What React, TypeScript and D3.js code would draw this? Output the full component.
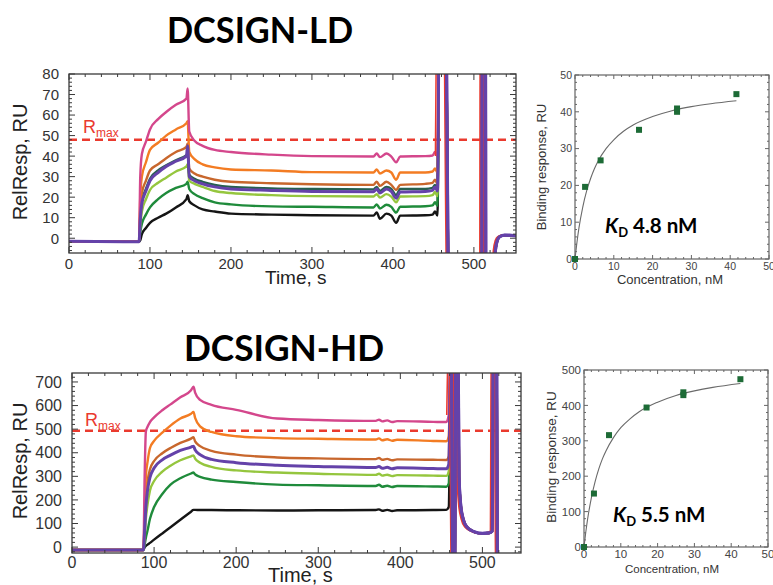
import React from "react";
import * as d3 from "d3";

// ---------------- DCSIGN-LD sensorgram (RU vs time, s) ----------------
const LD_TIME = [0, 86.5, 88, 90, 95, 100, 110, 120, 132, 145, 146.5, 148.5, 155, 165, 180, 200, 250, 300, 376, 380, 384, 392, 398, 404, 409, 440, 449, 452, 455];
const LD_BLACK = [-1.5, -1.7, -1, 2, 5, 7.5, 10, 12, 15, 19, 21, 18, 16, 14, 13, 12, 11.5, 11.2, 11, 12.5, 9.5, 12, 11, 7.5, 11, 11.2, 11.5, 13, 11];
const LD_GREEN = [-1.5, -1.7, 3, 7, 11.5, 15, 19, 22, 24.5, 26.5, 27.5, 24, 21.5, 19.5, 17.5, 16.5, 15.5, 15.3, 15, 16.5, 14.5, 16.3, 15.3, 12.5, 15.3, 15.6, 16, 17.5, 15.8];
const LD_LIGHTGREEN = [-1.5, -1.7, 6, 13, 19, 23.5, 27, 29.5, 32.5, 35, 36, 28, 26.5, 25, 23, 22, 21, 20.5, 20.3, 21.5, 19.8, 21.5, 20.3, 17.5, 20.3, 20.5, 21, 22.5, 20.5];
const LD_TEAL = [-1.5, -1.7, 10, 18, 24, 29, 33, 35.5, 38, 40.5, 41, 31, 29, 27.5, 26, 25, 24.3, 24, 23.8, 25, 23, 25, 24, 21, 24, 24, 24.5, 26, 24];
const LD_BROWN = [-1.5, -1.7, 14, 22, 28, 33, 36, 39, 42, 44.5, 46, 34, 31.5, 30, 28.5, 27.5, 26.8, 26.3, 26, 27.5, 25.5, 27.5, 26, 23.5, 26, 26.5, 27, 28.5, 26.5];
const LD_ORANGE = [-1.5, -1.7, 20, 30, 37, 43, 46.5, 50, 53, 56, 57, 42, 38.5, 36, 34.5, 33.5, 33, 32.2, 32, 33.5, 31.5, 33, 32, 28.5, 32, 32, 32.5, 34, 32];
const LD_PINK = [-1.5, -1.7, 30, 41, 47, 53, 58, 61.5, 65, 68, 73, 52, 47.5, 45, 43, 42, 40.7, 40, 39.8, 41.3, 39.5, 41.3, 39.8, 37, 39.8, 40, 40.3, 42, 40];
const LD_PURPLE = [-1.5, -1.7, 9, 17, 23, 28, 32, 35, 37.5, 40, 45, 30, 28, 26.5, 25, 24, 23.3, 22.8, 22.6, 24, 22, 24, 22.8, 19.5, 22.5, 22.8, 23.3, 25, 23];
// regeneration pulse (goes off scale)
const LD_TAIL_TIME = [458, 464, 470, 509.5, 510.5, 514, 515, 524, 526.5, 529, 532, 538, 552];
const LD_TAIL_RU = [150, 150, -60, -60, 150, 150, -60, -60, -6, -1, 0.8, 1.5, 1.2];
const LD_X_TICKS = [0, 100, 200, 300, 400, 500];
const LD_Y_TICKS = [0, 10, 20, 30, 40, 50, 60, 70, 80];
const LD_RMAX = 48;

// ---------------- DCSIGN-HD sensorgram ----------------
const HD_TIME = [0, 87, 88.5, 90, 92, 95, 100, 110, 120, 132, 145, 148, 150, 156, 170, 200, 250, 300, 370, 374, 378, 384, 390, 396, 440, 456, 459];
const HD_BLACK = [-12, -12, 0, 5, 10.5, 18, 31.6, 58, 84, 116, 150, 158, 158, 157, 157, 156, 155, 156, 157, 160, 154, 158, 153, 156, 157, 158, 170];
const HD_GREEN = [-12, -12, 10, 40, 70, 120, 170, 225, 265, 292, 312, 316, 308, 298, 286, 276, 265, 262, 259, 264, 256, 260, 255, 259, 257, 256, 270];
const HD_LIGHTGREEN = [-12, -12, 40, 120, 180, 240, 280, 320, 345, 368, 385, 389, 375, 358, 340, 325, 316, 311, 306, 311, 303, 307, 301, 305, 303, 302, 320];
const HD_BROWN = [-12, -12, 100, 220, 280, 330, 365, 398, 420, 442, 460, 466, 448, 428, 408, 392, 380, 376, 373, 378, 370, 374, 368, 372, 370, 369, 385];
const HD_ORANGE = [-12, -12, 150, 300, 360, 420, 450, 485, 515, 545, 565, 573, 548, 512, 488, 470, 462, 459, 456, 461, 453, 457, 451, 455, 450, 449, 470];
const HD_PINK = [-12, -12, 300, 490, 510, 530, 550, 580, 605, 635, 665, 680, 655, 624, 603, 582, 545, 539, 535, 540, 533, 537, 530, 534, 531, 530, 560];
const HD_PURPLE = [-12, -12, 70, 170, 240, 295, 335, 370, 390, 410, 424, 428, 412, 392, 372, 358, 347, 342, 337, 342, 334, 338, 332, 336, 333, 332, 350];
const HD_TAIL_TIME = [462, 464.5, 466, 468, 470, 471.5, 473.5, 476.5, 481, 490, 500, 508, 512, 513.5, 517, 518.5, 547];
const HD_TAIL_RU = [1000, -200, -200, 1000, 1000, 300, 180, 120, 85, 65, 58, 60, 68, 1000, 1000, -200, -200];
const HD_X_TICKS = [0, 100, 200, 300, 400, 500];
const HD_Y_TICKS = [0, 100, 200, 300, 400, 500, 600, 700];
const HD_RMAX = 493;

// ---------------- Binding isotherms ----------------
const LD_CONC = [0, 2.6, 6.6, 16.5, 26.3, 26.3, 41.6];
const LD_BIND = [0, 19.6, 26.8, 35.1, 40.0, 40.9, 44.8];
const LD_FIT_CONC = [0, 0.5, 1, 2, 3, 4, 5, 6, 8, 10, 12.5, 15, 20, 25, 30, 35, 41.6];
const LD_FIT_RU = [0, 4.5, 8.3, 14.1, 18.5, 21.8, 24.5, 26.7, 30, 32.4, 34.7, 36.4, 38.7, 40.3, 41.4, 42.2, 43.0];
const HD_CONC = [0, 2.7, 6.8, 17, 27, 27, 42.5];
const HD_BIND = [0, 151, 316, 394, 429, 437, 474];
const HD_FIT_CONC = [0, 0.5, 1, 2, 3, 4, 5, 6, 8, 10, 12.5, 15, 20, 25, 30, 35, 42.5];
const HD_FIT_RU = [0, 43, 80, 139, 184, 220, 249, 272, 309, 337, 362, 382, 409, 428, 441, 451, 462];
const KD_X_TICKS = [0, 10, 20, 30, 40, 50];
const LD_KD_Y_TICKS = [0, 10, 20, 30, 40, 50];
const HD_KD_Y_TICKS = [0, 100, 200, 300, 400, 500];
const LD_KD_TEXT = "4.8 nM";
const HD_KD_TEXT = "5.5 nM";

const COLORS: Record<string, string> = {
  black: "#151515",
  green: "#1f8b3b",
  lightgreen: "#95c63e",
  teal: "#26604f",
  brown: "#c8672d",
  orange: "#f37c23",
  pink: "#d4478c",
  purple: "#6442a9",
};
const RED = "#ea3a2e";
const AXIS_FONT = "'Liberation Sans', Arial, Helvetica, sans-serif";
const TITLE_FONT = "Lato, 'Open Sans', sans-serif";

type Box = { l: number; t: number; r: number; b: number };
type Series = { name: string; values: number[] };

function Ticks({ x, y, box, xTicks, yTicks, xMinor, yMinor, major, minor, color }: any) {
  const out: JSX.Element[] = [];
  xTicks.forEach((v: number, i: number) => {
    const px = x(v);
    out.push(<line key={"xb" + i} x1={px} x2={px} y1={box.b} y2={box.b - major} />);
    out.push(<line key={"xt" + i} x1={px} x2={px} y1={box.t} y2={box.t + major} />);
  });
  xMinor.forEach((v: number, i: number) => {
    const px = x(v);
    out.push(<line key={"xmb" + i} x1={px} x2={px} y1={box.b} y2={box.b - minor} />);
    out.push(<line key={"xmt" + i} x1={px} x2={px} y1={box.t} y2={box.t + minor} />);
  });
  yTicks.forEach((v: number, i: number) => {
    const py = y(v);
    out.push(<line key={"yl" + i} x1={box.l} x2={box.l + major} y1={py} y2={py} />);
    out.push(<line key={"yr" + i} x1={box.r} x2={box.r - major} y1={py} y2={py} />);
  });
  yMinor.forEach((v: number, i: number) => {
    const py = y(v);
    out.push(<line key={"yml" + i} x1={box.l} x2={box.l + minor} y1={py} y2={py} />);
    out.push(<line key={"ymr" + i} x1={box.r} x2={box.r - minor} y1={py} y2={py} />);
  });
  return <g stroke={color} strokeWidth={1}>{out}</g>;
}

function minorTicks(domain: [number, number], step: number, majors: number[]) {
  const start = Math.ceil(domain[0] / step) * step;
  return d3.range(start, domain[1] + 1e-6, step).filter((v) => !majors.some((m) => Math.abs(m - v) < 1e-6));
}

function Sensorgram(props: {
  id: string;
  box: Box;
  xDomain: [number, number];
  yDomain: [number, number];
  time: number[];
  series: Series[];
  tailTime: number[];
  tailRU: number[];
  xTicks: number[];
  yTicks: number[];
  xMinorStep: number;
  yMinorStep: number;
  rmax: number;
  tickSize: number;
  xTickBaseline: number;
  timeLabel: { x: number; y: number; size: number };
  yLabel: { x: number; y: number };
  rmaxLabel: { x: number; y: number };
  title: { text: string; x: number; y: number; len: number };
}) {
  const { box } = props;
  const x = d3.scaleLinear().domain(props.xDomain).range([box.l, box.r]);
  const y = d3.scaleLinear().domain(props.yDomain).range([box.b, box.t]);
  const line = d3
    .line<[number, number]>()
    .x((d) => x(d[0]))
    .y((d) => y(d[1]))
    .curve(d3.curveMonotoneX);
  const tail: [number, number][] = props.tailTime.map((t, i) => [t, props.tailRU[i]]);
  const clipId = "clip-" + props.id;
  const pink = props.series.find((s) => s.name === "pink");
  return (
    <g>
      <defs>
        <clipPath id={clipId}>
          <rect x={box.l} y={box.t} width={box.r - box.l} height={box.b - box.t} />
        </clipPath>
      </defs>
      <text x={props.title.x} y={props.title.y} fontFamily={TITLE_FONT} fontWeight={700} fontSize={36} textLength={props.title.len} lengthAdjust="spacingAndGlyphs" fill="#000">
        {props.title.text}
      </text>
      <g clipPath={`url(#${clipId})`}>
        <line x1={box.l} x2={box.r} y1={y(props.rmax)} y2={y(props.rmax)} stroke={RED} strokeWidth={2.4} strokeDasharray="8,5" />
        {props.series.map((s) => {
          const pts: [number, number][] = props.time.map((t, i) => [t, s.values[i]]);
          return (
            <path key={s.name} d={line(pts.concat(tail)) || ""} fill="none" stroke={COLORS[s.name]} strokeWidth={s.name === "purple" ? 3 : 2.4} strokeLinejoin="round" />
          );
        })}
        {pink && (
          <path d={line(([[props.time[props.time.length - 1], pink.values[pink.values.length - 1]]] as [number, number][]).concat(tail)) || ""} fill="none" stroke={RED} strokeWidth={1.6} transform="translate(-2,0)" />
        )}
        <path d={line(tail) || ""} fill="none" stroke={COLORS.purple} strokeWidth={3.2} />
      </g>
      <rect x={box.l} y={box.t} width={box.r - box.l} height={box.b - box.t} fill="none" stroke="#3a3a3a" strokeWidth={1.3} />
      <Ticks
        x={x}
        y={y}
        box={box}
        xTicks={props.xTicks}
        yTicks={props.yTicks}
        xMinor={minorTicks(props.xDomain, props.xMinorStep, props.xTicks)}
        yMinor={minorTicks(props.yDomain, props.yMinorStep, props.yTicks)}
        major={6}
        minor={3}
        color="#3a3a3a"
      />
      <g fontFamily={AXIS_FONT} fontSize={props.tickSize} fill="#333">
        {props.xTicks.map((v) => (
          <text key={"xl" + v} x={x(v)} y={props.xTickBaseline} textAnchor="middle">
            {v}
          </text>
        ))}
        {props.yTicks.map((v) => (
          <text key={"yl" + v} x={box.l - 10} y={y(v)} dy="0.36em" textAnchor="end">
            {v}
          </text>
        ))}
      </g>
      <text x={props.timeLabel.x} y={props.timeLabel.y} fontFamily={AXIS_FONT} fontSize={props.timeLabel.size} fill="#222">
        Time, s
      </text>
      <text transform={`translate(${props.yLabel.x},${props.yLabel.y}) rotate(-90)`} textAnchor="middle" fontFamily={AXIS_FONT} fontSize={20} fill="#222">
        RelResp, RU
      </text>
      <text x={props.rmaxLabel.x} y={props.rmaxLabel.y} fontFamily={AXIS_FONT} fill={RED} fontSize={18}>
        R
        <tspan fontSize={12} dy={4}>
          max
        </tspan>
      </text>
    </g>
  );
}

function Isotherm(props: {
  id: string;
  box: Box;
  yMax: number;
  conc: number[];
  bind: number[];
  fitConc: number[];
  fitRU: number[];
  yTicks: number[];
  yMinorStep: number;
  tickSize: number;
  xTickBaseline: number;
  xLabel: { x: number; y: number; size: number };
  yLabel: { x: number; y: number; size: number };
  kd: { text: string; x: number; y: number };
}) {
  const { box } = props;
  const x = d3.scaleLinear().domain([0, 50]).range([box.l, box.r]);
  const y = d3.scaleLinear().domain([0, props.yMax]).range([box.b, box.t]);
  const line = d3
    .line<[number, number]>()
    .x((d) => x(d[0]))
    .y((d) => y(d[1]))
    .curve(d3.curveMonotoneX);
  const fit: [number, number][] = props.fitConc.map((c, i) => [c, props.fitRU[i]]);
  return (
    <g>
      <rect x={box.l} y={box.t} width={box.r - box.l} height={box.b - box.t} fill="none" stroke="#555" strokeWidth={1.1} />
      <Ticks
        x={x}
        y={y}
        box={box}
        xTicks={KD_X_TICKS}
        yTicks={props.yTicks}
        xMinor={minorTicks([0, 50], 2, KD_X_TICKS)}
        yMinor={minorTicks([0, props.yMax], props.yMinorStep, props.yTicks)}
        major={4}
        minor={2}
        color="#666"
      />
      <path d={line(fit) || ""} fill="none" stroke="#6a6a6a" strokeWidth={1.1} />
      {props.conc.map((c, i) => (
        <rect key={i} x={x(c) - 3} y={y(props.bind[i]) - 3} width={6} height={6} fill="#1d6b36" />
      ))}
      <g fontFamily={AXIS_FONT} fontSize={props.tickSize} fill="#444">
        {KD_X_TICKS.map((v) => (
          <text key={"x" + v} x={x(v)} y={props.xTickBaseline} textAnchor="middle">
            {v}
          </text>
        ))}
        {props.yTicks.map((v) => (
          <text key={"y" + v} x={box.l - 3} y={y(v)} dy="0.36em" textAnchor="end">
            {v}
          </text>
        ))}
      </g>
      <text x={props.xLabel.x} y={props.xLabel.y} textAnchor="middle" fontFamily={AXIS_FONT} fontSize={props.xLabel.size} fill="#333">
        Concentration, nM
      </text>
      <text transform={`translate(${props.yLabel.x},${props.yLabel.y}) rotate(-90)`} textAnchor="middle" fontFamily={AXIS_FONT} fontSize={props.yLabel.size} fill="#333">
        Binding response, RU
      </text>
      <text x={props.kd.x} y={props.kd.y} fontFamily={TITLE_FONT} fontWeight={700} fontSize={20.5} fill="#000">
        <tspan fontStyle="italic">K</tspan>
        <tspan fontSize={13} dy={4}>
          D
        </tspan>
        <tspan dy={-4}> {props.kd.text}</tspan>
      </text>
    </g>
  );
}

export default function App() {
  const ldSeries: Series[] = [
    { name: "black", values: LD_BLACK },
    { name: "green", values: LD_GREEN },
    { name: "lightgreen", values: LD_LIGHTGREEN },
    { name: "teal", values: LD_TEAL },
    { name: "brown", values: LD_BROWN },
    { name: "orange", values: LD_ORANGE },
    { name: "pink", values: LD_PINK },
    { name: "purple", values: LD_PURPLE },
  ];
  const hdSeries: Series[] = [
    { name: "black", values: HD_BLACK },
    { name: "green", values: HD_GREEN },
    { name: "lightgreen", values: HD_LIGHTGREEN },
    { name: "brown", values: HD_BROWN },
    { name: "orange", values: HD_ORANGE },
    { name: "pink", values: HD_PINK },
    { name: "purple", values: HD_PURPLE },
  ];
  return (
    <svg width={773} height={585} style={{ position: "absolute", left: 0, top: 0, background: "#fff" }}>
      <Sensorgram
        id="ld"
        box={{ l: 69, t: 74, r: 516, b: 253 }}
        xDomain={[0, 552]}
        yDomain={[-7.2, 80]}
        time={LD_TIME}
        series={ldSeries}
        tailTime={LD_TAIL_TIME}
        tailRU={LD_TAIL_RU}
        xTicks={LD_X_TICKS}
        yTicks={LD_Y_TICKS}
        xMinorStep={20}
        yMinorStep={2}
        rmax={LD_RMAX}
        tickSize={15}
        xTickBaseline={269}
        timeLabel={{ x: 265, y: 284, size: 19 }}
        yLabel={{ x: 27, y: 162 }}
        rmaxLabel={{ x: 83, y: 133 }}
        title={{ text: "DCSIGN-LD", x: 167, y: 43, len: 186 }}
      />
      <Sensorgram
        id="hd"
        box={{ l: 72, t: 373, r: 521, b: 553 }}
        xDomain={[0, 547]}
        yDomain={[-25, 738]}
        time={HD_TIME}
        series={hdSeries}
        tailTime={HD_TAIL_TIME}
        tailRU={HD_TAIL_RU}
        xTicks={HD_X_TICKS}
        yTicks={HD_Y_TICKS}
        xMinorStep={20}
        yMinorStep={20}
        rmax={HD_RMAX}
        tickSize={16}
        xTickBaseline={568}
        timeLabel={{ x: 268, y: 582, size: 20 }}
        yLabel={{ x: 27, y: 461 }}
        rmaxLabel={{ x: 85, y: 426 }}
        title={{ text: "DCSIGN-HD", x: 184, y: 361, len: 200 }}
      />
      <Isotherm
        id="ldk"
        box={{ l: 575, t: 75, r: 769, b: 259 }}
        yMax={50}
        conc={LD_CONC}
        bind={LD_BIND}
        fitConc={LD_FIT_CONC}
        fitRU={LD_FIT_RU}
        yTicks={LD_KD_Y_TICKS}
        yMinorStep={2}
        tickSize={10.5}
        xTickBaseline={270}
        xLabel={{ x: 670, y: 284, size: 13 }}
        yLabel={{ x: 546, y: 167, size: 13 }}
        kd={{ text: LD_KD_TEXT, x: 605, y: 233 }}
      />
      <Isotherm
        id="hdk"
        box={{ l: 584, t: 370, r: 768, b: 547 }}
        yMax={500}
        conc={HD_CONC}
        bind={HD_BIND}
        fitConc={HD_FIT_CONC}
        fitRU={HD_FIT_RU}
        yTicks={HD_KD_Y_TICKS}
        yMinorStep={20}
        tickSize={11.5}
        xTickBaseline={558}
        xLabel={{ x: 672, y: 573, size: 11.5 }}
        yLabel={{ x: 556, y: 457, size: 13.5 }}
        kd={{ text: HD_KD_TEXT, x: 613, y: 522 }}
      />
    </svg>
  );
}
